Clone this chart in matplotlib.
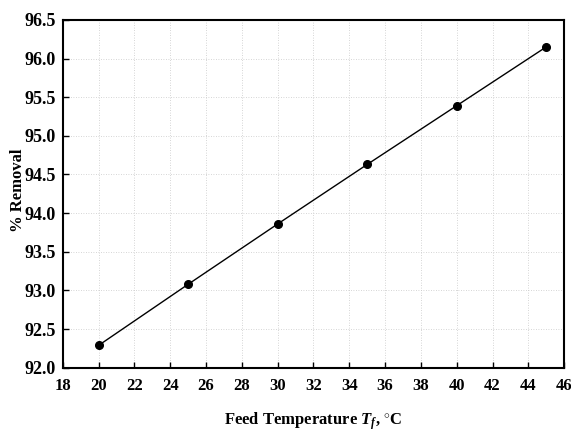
import matplotlib
matplotlib.use("Agg")
import matplotlib.pyplot as plt

# data
temp = [20, 25, 30, 35, 40, 45]
removal = [92.29, 93.08, 93.86, 94.63, 95.39, 96.15]

plt.rcParams['font.family'] = ['Liberation Serif', 'DejaVu Serif']
plt.rcParams['font.weight'] = 'bold'
plt.rcParams['mathtext.fontset'] = 'custom'
plt.rcParams['mathtext.rm'] = 'Liberation Serif:bold'
plt.rcParams['mathtext.it'] = 'Liberation Serif:italic:bold'
plt.rcParams['mathtext.bf'] = 'Liberation Serif:bold'

fig = plt.figure(figsize=(5.71, 4.41), dpi=100)
ax = fig.add_axes([0.110, 0.166, 0.878, 0.789])

ax.plot(temp, removal, color='black', lw=1.0, marker='o', markersize=5.5,
        markerfacecolor='black', markeredgecolor='black')

ax.set_xlim(18, 46)
ax.set_ylim(92.0, 96.5)
ax.set_xticks(range(18, 47, 2))
ax.set_yticks([92.0 + 0.5 * i for i in range(10)])
ax.set_yticklabels(['%.1f' % (92.0 + 0.5 * i) for i in range(10)])
ax.grid(True, color='#c8c8c8', linestyle=(0, (1, 2)), lw=0.6)
ax.tick_params(direction='in', length=4, width=1, pad=5)
ax.tick_params(axis='y', labelsize=13)
ax.tick_params(axis='x', labelsize=12, pad=7)
for s in ax.spines.values():
    s.set_linewidth(1.5)

ax.set_xlabel(r'Feed Temperature $T_f$, $^{\circ}$C', fontsize=12, fontweight='bold', labelpad=12)
fig.text(18 / 571, 1 - 190 / 441, '% Removal', rotation=90, ha='center', va='center',
         fontsize=12, fontweight='bold')

fig.savefig('out.png', dpi=100)
